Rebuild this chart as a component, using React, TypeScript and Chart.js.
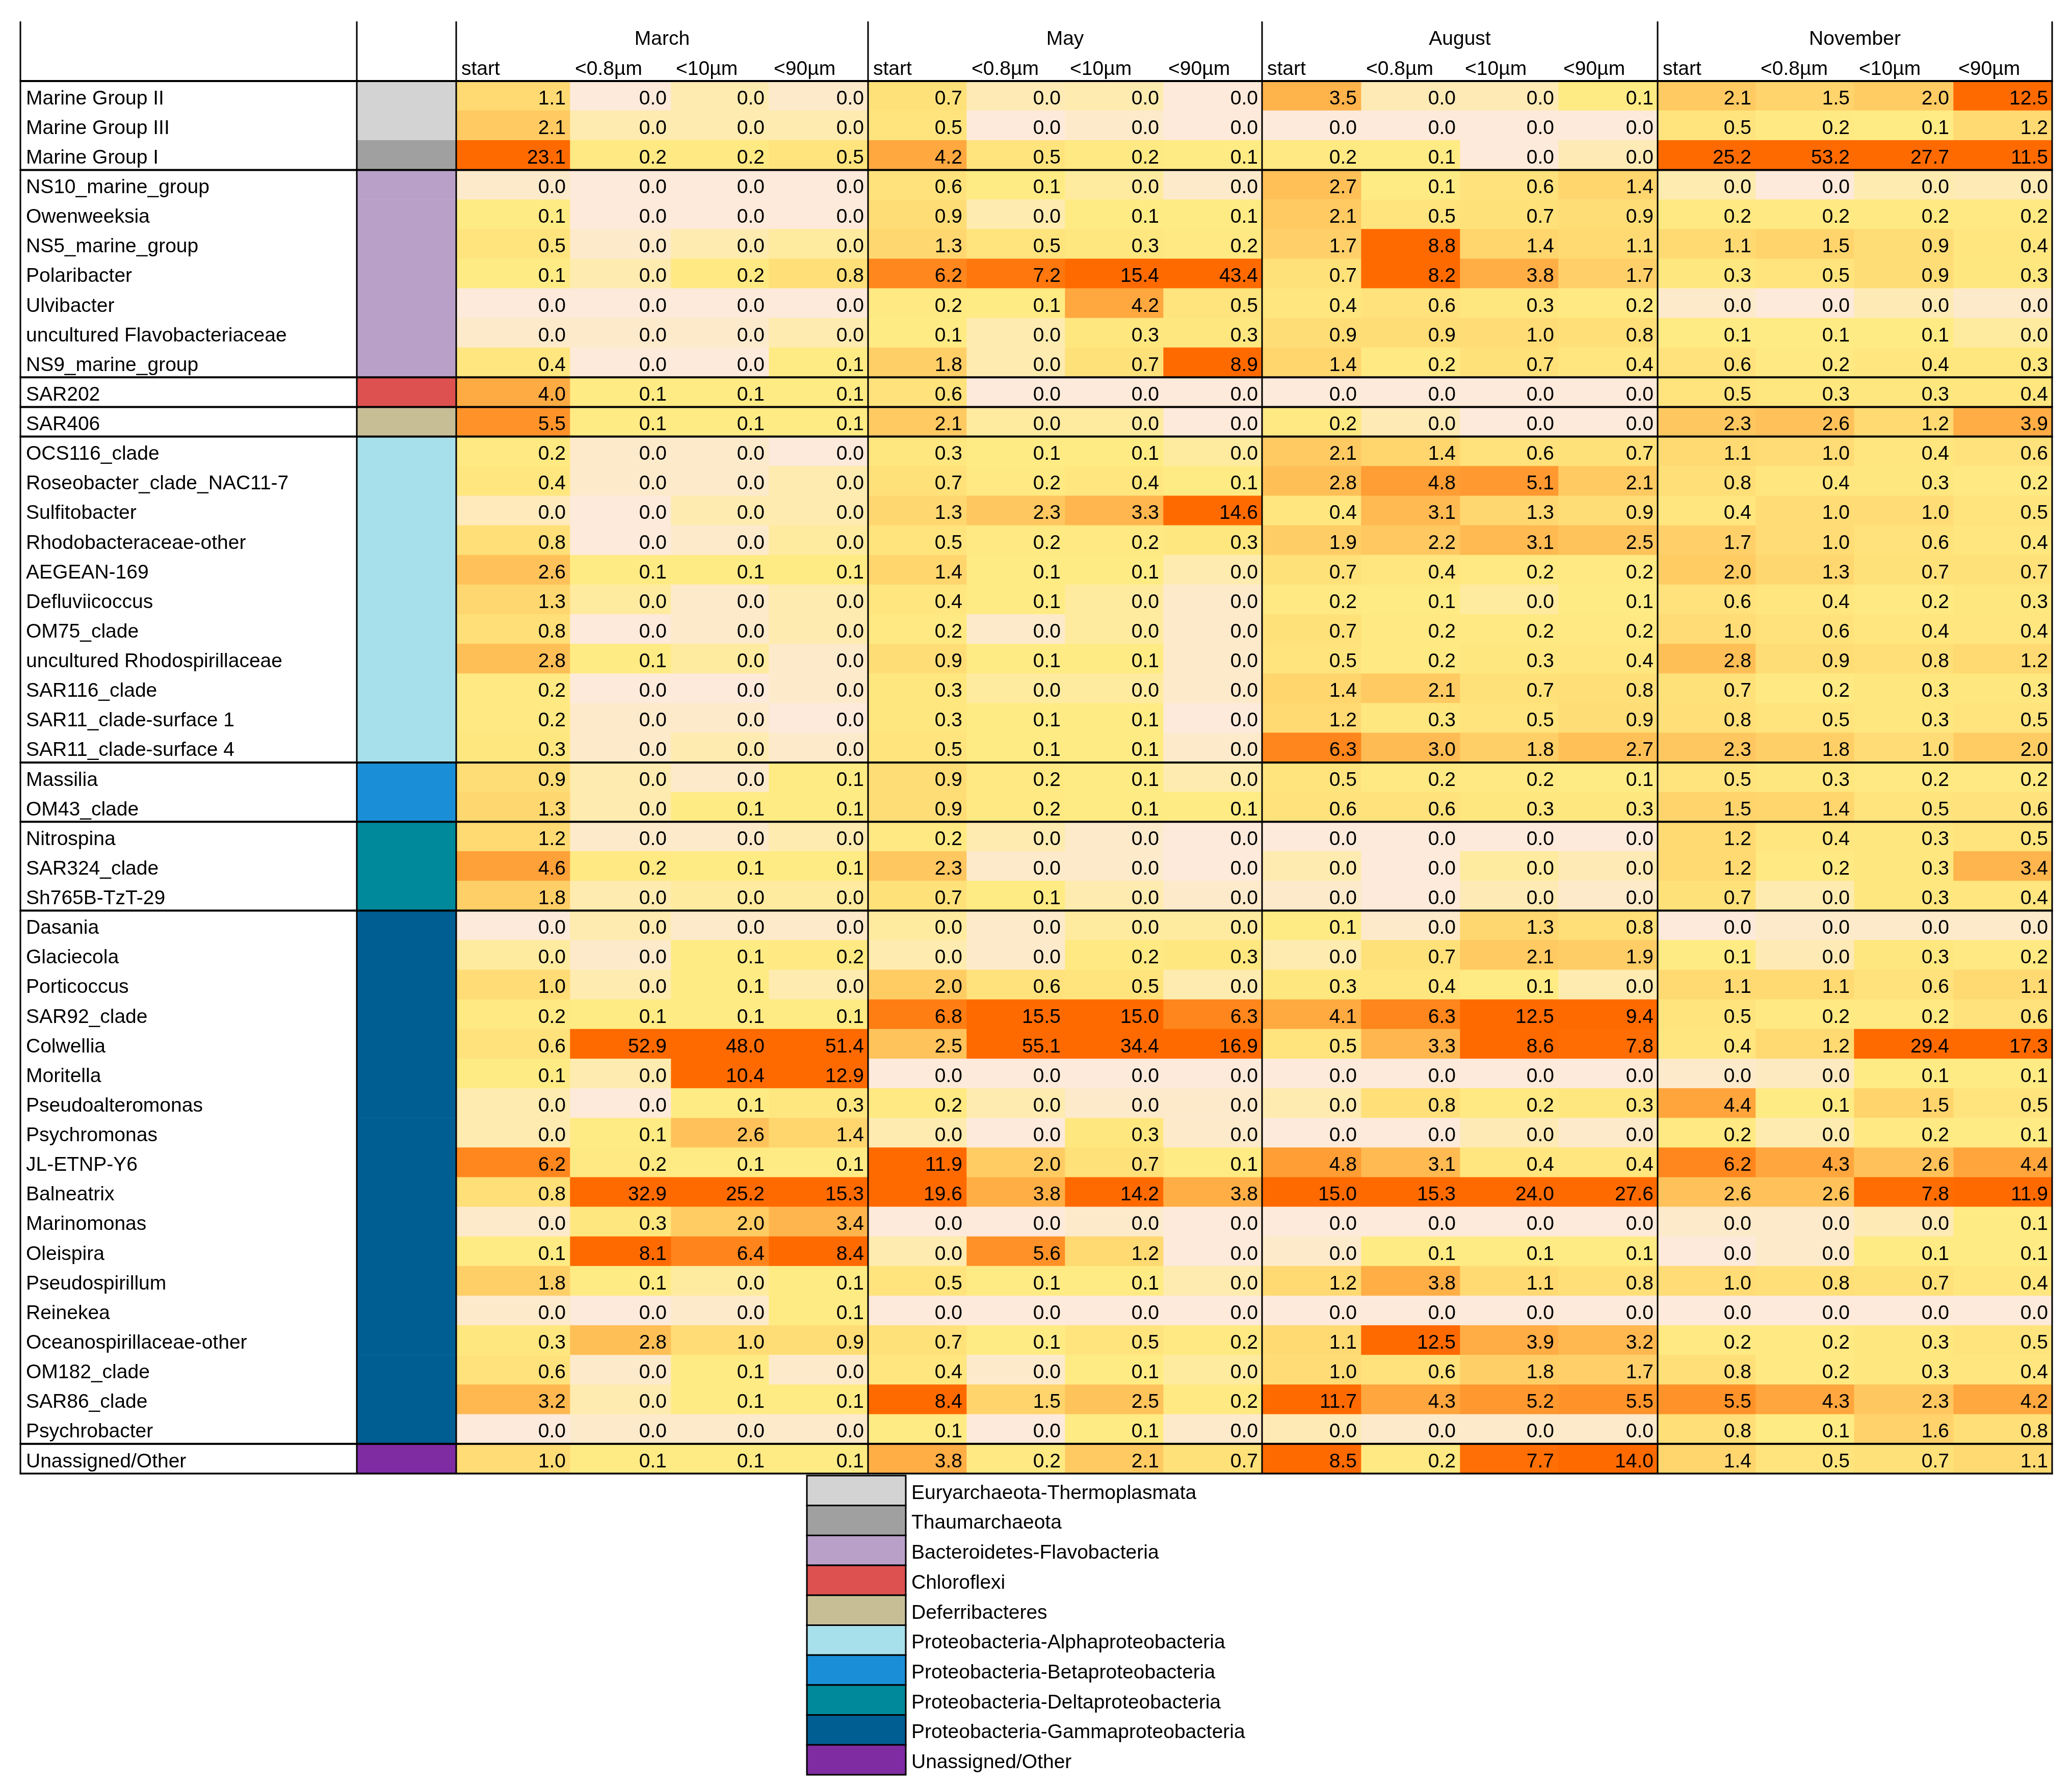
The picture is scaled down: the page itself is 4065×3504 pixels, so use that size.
import { useEffect, useRef } from "react";
import { Chart, registerables } from "chart.js";

Chart.register(...registerables);

// ---------- data ----------
const taxa = [
  "Marine Group II", "Marine Group III", "Marine Group I",
  "NS10_marine_group", "Owenweeksia", "NS5_marine_group", "Polaribacter", "Ulvibacter", "uncultured Flavobacteriaceae", "NS9_marine_group",
  "SAR202", "SAR406",
  "OCS116_clade", "Roseobacter_clade_NAC11-7", "Sulfitobacter", "Rhodobacteraceae-other", "AEGEAN-169", "Defluviicoccus", "OM75_clade", "uncultured Rhodospirillaceae", "SAR116_clade", "SAR11_clade-surface 1", "SAR11_clade-surface 4",
  "Massilia", "OM43_clade",
  "Nitrospina", "SAR324_clade", "Sh765B-TzT-29",
  "Dasania", "Glaciecola", "Porticoccus", "SAR92_clade", "Colwellia", "Moritella", "Pseudoalteromonas", "Psychromonas", "JL-ETNP-Y6", "Balneatrix", "Marinomonas", "Oleispira", "Pseudospirillum", "Reinekea", "Oceanospirillaceae-other", "OM182_clade", "SAR86_clade", "Psychrobacter",
  "Unassigned/Other",
];

const groupNames = [
  "Euryarchaeota-Thermoplasmata", "Thaumarchaeota", "Bacteroidetes-Flavobacteria", "Chloroflexi", "Deferribacteres",
  "Proteobacteria-Alphaproteobacteria", "Proteobacteria-Betaproteobacteria", "Proteobacteria-Deltaproteobacteria",
  "Proteobacteria-Gammaproteobacteria", "Unassigned/Other",
];
const groupColors = ["#d3d3d3", "#a0a0a0", "#b9a0c8", "#dd5150", "#c8be96", "#a7dfea", "#1a8fd8", "#00899b", "#005e93", "#7f2ba1"];
// table section each group belongs to (the two archaeal groups share one section)
const groupSection = [0, 0, 1, 2, 3, 4, 5, 6, 7, 8];
const taxonGroup = [
  0, 0, 1,
  2, 2, 2, 2, 2, 2, 2,
  3, 4,
  5, 5, 5, 5, 5, 5, 5, 5, 5, 5, 5,
  6, 6,
  7, 7, 7,
  8, 8, 8, 8, 8, 8, 8, 8, 8, 8, 8, 8, 8, 8, 8, 8, 8, 8,
  9,
];

const months = ["March", "May", "August", "November"];
const fractions = ["start", "<0.8µm", "<10µm", "<90µm"];

// values (%); cells shown as 0.0 carry small sub-0.05 estimates read from their shading
const marchStart = [1.1, 2.1, 23.1, 0.012, 0.1, 0.5, 0.1, 0, 0.012, 0.4, 4.0, 5.5, 0.2, 0.4, 0.025, 0.8, 2.6, 1.3, 0.8, 2.8, 0.2, 0.2, 0.3, 0.9, 1.3, 1.2, 4.6, 1.8, 0, 0.048, 1.0, 0.2, 0.6, 0.1, 0.035, 0.035, 6.2, 0.8, 0.012, 0.1, 1.8, 0.012, 0.3, 0.6, 3.2, 0, 1.0];
const march08 = [0, 0.035, 0.2, 0, 0, 0.012, 0.035, 0, 0.012, 0, 0.1, 0.1, 0.012, 0.012, 0, 0, 0.1, 0.048, 0, 0.1, 0, 0.012, 0.012, 0.035, 0.035, 0.012, 0.2, 0.035, 0.035, 0.012, 0.035, 0.1, 52.9, 0.035, 0, 0.1, 0.2, 32.9, 0.3, 8.1, 0.1, 0, 2.8, 0.012, 0.035, 0.012, 0.1];
const march10 = [0.035, 0.035, 0.2, 0, 0, 0.035, 0.2, 0, 0.012, 0, 0.1, 0.1, 0.012, 0.012, 0.035, 0.012, 0.1, 0.012, 0.012, 0.048, 0, 0.012, 0.035, 0.012, 0.1, 0.012, 0.1, 0.048, 0.012, 0.1, 0.1, 0.1, 48.0, 10.4, 0.1, 2.6, 0.1, 25.2, 2.0, 6.4, 0.048, 0.012, 1.0, 0.1, 0.1, 0.012, 0.1];
const march90 = [0.012, 0.035, 0.5, 0, 0, 0.048, 0.8, 0, 0.035, 0.1, 0.1, 0.1, 0, 0.035, 0.035, 0.048, 0.1, 0.035, 0.035, 0.012, 0.012, 0, 0.012, 0.1, 0.1, 0.035, 0.1, 0.048, 0.012, 0.2, 0.035, 0.1, 51.4, 12.9, 0.3, 1.4, 0.1, 15.3, 3.4, 8.4, 0.1, 0.1, 0.9, 0.012, 0.1, 0.012, 0.1];

const mayStart = [0.7, 0.5, 4.2, 0.6, 0.9, 1.3, 6.2, 0.2, 0.1, 1.8, 0.6, 2.1, 0.3, 0.7, 1.3, 0.5, 1.4, 0.4, 0.2, 0.9, 0.3, 0.3, 0.5, 0.9, 0.9, 0.2, 2.3, 0.7, 0.048, 0.035, 2.0, 6.8, 2.5, 0, 0.2, 0.035, 11.9, 19.6, 0, 0.035, 0.5, 0, 0.7, 0.4, 8.4, 0.1, 3.8];
const may08 = [0.03, 0, 0.5, 0.1, 0.035, 0.5, 7.2, 0.1, 0.035, 0.035, 0, 0.048, 0.1, 0.2, 2.3, 0.2, 0.1, 0.1, 0.012, 0.1, 0.048, 0.1, 0.1, 0.2, 0.2, 0.035, 0.012, 0.1, 0.012, 0.012, 0.6, 15.5, 55.1, 0, 0.035, 0, 2.0, 3.8, 0, 5.6, 0.1, 0, 0.1, 0.012, 1.5, 0, 0.2];
const may10 = [0.035, 0.012, 0.2, 0.048, 0.1, 0.3, 15.4, 4.2, 0.3, 0.7, 0, 0.048, 0.1, 0.4, 3.3, 0.2, 0.1, 0.048, 0.048, 0.1, 0.048, 0.1, 0.1, 0.1, 0.1, 0.012, 0.012, 0.035, 0.048, 0.2, 0.5, 15.0, 34.4, 0, 0.012, 0.3, 0.7, 14.2, 0.012, 1.2, 0.1, 0, 0.5, 0.1, 2.5, 0.1, 2.1];
const may90 = [0, 0, 0.1, 0.012, 0.1, 0.2, 43.4, 0.5, 0.3, 8.9, 0, 0, 0.048, 0.1, 14.6, 0.3, 0.035, 0.012, 0.012, 0.012, 0.012, 0, 0.012, 0.035, 0.1, 0, 0, 0.012, 0.048, 0.3, 0.035, 6.3, 16.9, 0, 0.012, 0.012, 0.1, 3.8, 0, 0, 0.035, 0, 0.2, 0.048, 0.2, 0.012, 0.7];

const augStart = [3.5, 0, 0.2, 2.7, 2.1, 1.7, 0.7, 0.4, 0.9, 1.4, 0, 0.2, 2.1, 2.8, 0.4, 1.9, 0.7, 0.2, 0.7, 0.5, 1.4, 1.2, 6.3, 0.5, 0.6, 0, 0.035, 0.012, 0.1, 0.035, 0.3, 4.1, 0.5, 0, 0.035, 0, 4.8, 15.0, 0, 0.012, 1.2, 0, 1.1, 1.0, 11.7, 0.03, 8.5];
const aug08 = [0.03, 0, 0.1, 0.1, 0.5, 8.8, 8.2, 0.6, 0.9, 0.2, 0, 0.03, 1.4, 4.8, 3.1, 2.2, 0.4, 0.1, 0.2, 0.2, 2.1, 0.3, 3.0, 0.2, 0.6, 0, 0, 0, 0.012, 0.7, 0.4, 6.3, 3.3, 0, 0.8, 0, 3.1, 15.3, 0, 0.1, 3.8, 0, 12.5, 0.6, 4.3, 0.012, 0.2];
const aug10 = [0.03, 0, 0, 0.6, 0.7, 1.4, 3.8, 0.3, 1.0, 0.7, 0, 0, 0.6, 5.1, 1.3, 3.1, 0.2, 0.048, 0.2, 0.3, 0.7, 0.5, 1.8, 0.2, 0.3, 0, 0.048, 0.03, 1.3, 2.1, 0.1, 12.5, 8.6, 0, 0.2, 0.03, 0.4, 24.0, 0, 0.1, 1.1, 0, 3.9, 1.8, 5.2, 0.012, 7.7];
const aug90 = [0.1, 0, 0.03, 1.4, 0.9, 1.1, 1.7, 0.2, 0.8, 0.4, 0, 0, 0.7, 2.1, 0.9, 2.5, 0.2, 0.1, 0.2, 0.4, 0.8, 0.9, 2.7, 0.1, 0.3, 0, 0.03, 0.012, 0.8, 1.9, 0.035, 9.4, 7.8, 0, 0.3, 0.012, 0.4, 27.6, 0, 0.1, 0.8, 0, 3.2, 1.7, 5.5, 0.012, 14.0];

const novStart = [2.1, 0.5, 25.2, 0.035, 0.2, 1.1, 0.3, 0.012, 0.1, 0.6, 0.5, 2.3, 1.1, 0.8, 0.4, 1.7, 2.0, 0.6, 1.0, 2.8, 0.7, 0.8, 2.3, 0.5, 1.5, 1.2, 1.2, 0.7, 0, 0.1, 1.1, 0.5, 0.4, 0.012, 4.4, 0.2, 6.2, 2.6, 0.012, 0, 1.0, 0, 0.2, 0.8, 5.5, 0.8, 1.4];
const nov08 = [1.5, 0.2, 53.2, 0, 0.2, 1.5, 0.5, 0, 0.1, 0.2, 0.3, 2.6, 1.0, 0.4, 1.0, 1.0, 1.3, 0.4, 0.6, 0.9, 0.2, 0.5, 1.8, 0.3, 1.4, 0.4, 0.2, 0.035, 0.012, 0.03, 1.1, 0.2, 1.2, 0.02, 0.1, 0.035, 4.3, 2.6, 0.012, 0.012, 0.8, 0, 0.2, 0.2, 4.3, 0.1, 0.5];
const nov10 = [2.0, 0.1, 27.7, 0.035, 0.2, 0.9, 0.9, 0.03, 0.1, 0.4, 0.3, 1.2, 0.4, 0.3, 1.0, 0.6, 0.7, 0.2, 0.4, 0.8, 0.3, 0.3, 1.0, 0.2, 0.5, 0.3, 0.3, 0.3, 0.012, 0.3, 0.6, 0.2, 29.4, 0.1, 1.5, 0.2, 2.6, 7.8, 0.03, 0.1, 0.7, 0, 0.3, 0.3, 2.3, 1.6, 0.7];
const nov90 = [12.5, 1.2, 11.5, 0.03, 0.2, 0.4, 0.3, 0.012, 0.048, 0.3, 0.4, 3.9, 0.6, 0.2, 0.5, 0.4, 0.7, 0.3, 0.4, 1.2, 0.3, 0.5, 2.0, 0.2, 0.6, 0.5, 3.4, 0.4, 0.012, 0.2, 1.1, 0.6, 17.3, 0.1, 0.5, 0.1, 4.4, 11.9, 0.1, 0.1, 0.4, 0, 0.5, 0.4, 4.2, 0.8, 1.1];

const valueColumns = [
  marchStart, march08, march10, march90,
  mayStart, may08, may10, may90,
  augStart, aug08, aug10, aug90,
  novStart, nov08, nov10, nov90,
];

// ---------- layout / style ----------
const W = 4065;
const H = 3504;
const COL_EDGES = [40, 700, 895, 1118, 1316, 1508, 1703, 1896, 2089, 2282, 2476, 2670, 2864, 3057, 3252, 3444, 3637, 3832, 4026];
const MONTH_EDGES = [895, 1703, 2476, 3252, 4026];
const FONT = '39px "Liberation Sans", Arial, sans-serif';
const SCALE_MID = 0.07;
const SCALE_MAX = 8;
const C_LO = [253, 234, 218];
const C_MID = [255, 235, 132];
const C_HI = [255, 106, 0];

function lerp(a: number[], b: number[], t: number) {
  return `rgb(${a.map((v, i) => Math.round(v + (b[i] - v) * t)).join(",")})`;
}
function heatColor(v: number) {
  if (v <= SCALE_MID) return lerp(C_LO, C_MID, Math.max(0, v / SCALE_MID));
  return lerp(C_MID, C_HI, Math.min(1, (v - SCALE_MID) / (SCALE_MAX - SCALE_MID)));
}

const tablePlugin = {
  id: "tableDecor",
  beforeDraw(chart: any) {
    const ctx = chart.ctx;
    ctx.save();
    ctx.fillStyle = "#ffffff";
    ctx.fillRect(0, 0, chart.width, chart.height);
    ctx.restore();
  },
  afterDatasetsDraw(chart: any) {
    const ctx = chart.ctx;
    const xs = chart.scales.x;
    const ys = chart.scales.y;
    const area = chart.chartArea;
    const rowH = ys.getPixelForValue(1) - ys.getPixelForValue(0);
    ctx.save();
    ctx.fillStyle = "#000";
    ctx.font = FONT;
    ctx.textBaseline = "alphabetic";

    // cell values
    chart.data.datasets.forEach((ds: any, di: number) => {
      if (ds.kind !== "value") return;
      const meta = chart.getDatasetMeta(di);
      ctx.textAlign = "right";
      meta.data.forEach((bar: any, i: number) => {
        const p = bar.getProps(["x", "base", "y"], true);
        const right = Math.max(p.x, p.base);
        const bottom = p.y + rowH / 2;
        ctx.fillText(ds.data[i].v.toFixed(1), right - 8, bottom - 12.5);
      });
    });

    // row names
    ctx.textAlign = "left";
    const nameX = xs.getPixelForValue(COL_EDGES[0]) + 11;
    taxa.forEach((t, i) => {
      const bottom = ys.getPixelForValue(i) + rowH / 2;
      ctx.fillText(t, nameX, bottom - 12.5);
    });

    // header
    const topY = area.top - 117;
    months.forEach((m, mi) => {
      const l = xs.getPixelForValue(MONTH_EDGES[mi]);
      const r = xs.getPixelForValue(MONTH_EDGES[mi + 1]);
      ctx.textAlign = "center";
      ctx.fillText(m, (l + r) / 2, area.top - 71);
      ctx.textAlign = "left";
      fractions.forEach((f, fi) => {
        const cx = xs.getPixelForValue(COL_EDGES[2 + mi * 4 + fi]);
        ctx.fillText(f, cx + 10, area.top - 12);
      });
    });

    // lines
    ctx.strokeStyle = "#000";
    ctx.lineWidth = 4;
    const hline = (y: number) => {
      ctx.beginPath();
      ctx.moveTo(area.left - 1.5, y);
      ctx.lineTo(area.right + 1.5, y);
      ctx.stroke();
    };
    hline(area.top);
    for (let i = 1; i < taxa.length; i++) {
      if (groupSection[taxonGroup[i]] !== groupSection[taxonGroup[i - 1]]) {
        hline((ys.getPixelForValue(i - 1) + ys.getPixelForValue(i)) / 2);
      }
    }
    ctx.lineWidth = 3.5;
    hline(area.bottom);
    ctx.lineWidth = 3;
    const vEdges = [COL_EDGES[0], COL_EDGES[1], ...MONTH_EDGES];
    vEdges.forEach((e) => {
      const x = xs.getPixelForValue(e);
      ctx.beginPath();
      ctx.moveTo(x, topY);
      ctx.lineTo(x, area.bottom + 1.5);
      ctx.stroke();
    });

    // legend
    const lgLeft = 1583;
    const lgW = 194;
    const lgTop = area.bottom + 4;
    const lgH = 58.7;
    groupNames.forEach((g, gi) => {
      const y0 = lgTop + gi * lgH;
      ctx.fillStyle = groupColors[gi];
      ctx.fillRect(lgLeft, y0, lgW, lgH);
      ctx.lineWidth = 3;
      ctx.strokeStyle = "#000";
      ctx.strokeRect(lgLeft, y0, lgW, lgH);
      ctx.fillStyle = "#000";
      ctx.textAlign = "left";
      ctx.fillText(g, lgLeft + lgW + 11, y0 + lgH - 13);
    });
    ctx.restore();
  },
};

export default function App() {
  const ref = useRef<HTMLCanvasElement | null>(null);
  useEffect(() => {
    if (!ref.current) return;
    const groupDataset = {
      kind: "group",
      label: "group",
      data: taxa.map((t) => ({ y: t, x: [COL_EDGES[1], COL_EDGES[2]] })),
      backgroundColor: taxa.map((_, i) => groupColors[taxonGroup[i]]),
    };
    const valueDatasets = valueColumns.map((col, c) => ({
      kind: "value",
      label: `${months[Math.floor(c / 4)]} ${fractions[c % 4]}`,
      data: col.map((v, i) => ({ y: taxa[i], x: [COL_EDGES[c + 2], COL_EDGES[c + 3]], v })),
      backgroundColor: col.map((v) => heatColor(v)),
    }));
    const chart = new Chart(ref.current, {
      type: "bar",
      data: { labels: taxa, datasets: [groupDataset, ...valueDatasets] as any },
      options: {
        indexAxis: "y",
        responsive: false,
        animation: false,
        layout: { padding: { left: 40, right: W - 4026, top: 159, bottom: H - 2891 } },
        scales: {
          x: { type: "linear", min: COL_EDGES[0], max: COL_EDGES[COL_EDGES.length - 1], display: false },
          y: { type: "category", display: false, offset: true },
        },
        datasets: { bar: { barPercentage: 1, categoryPercentage: 1, grouped: false, borderWidth: 0 } as any },
        plugins: { legend: { display: false }, tooltip: { enabled: false } },
      } as any,
      plugins: [tablePlugin],
    });
    return () => chart.destroy();
  }, []);
  return (
    <div style={{ position: "absolute", left: 0, top: 0, width: W, height: H }}>
      <canvas ref={ref} width={W} height={H} style={{ display: "block" }} />
    </div>
  );
}
